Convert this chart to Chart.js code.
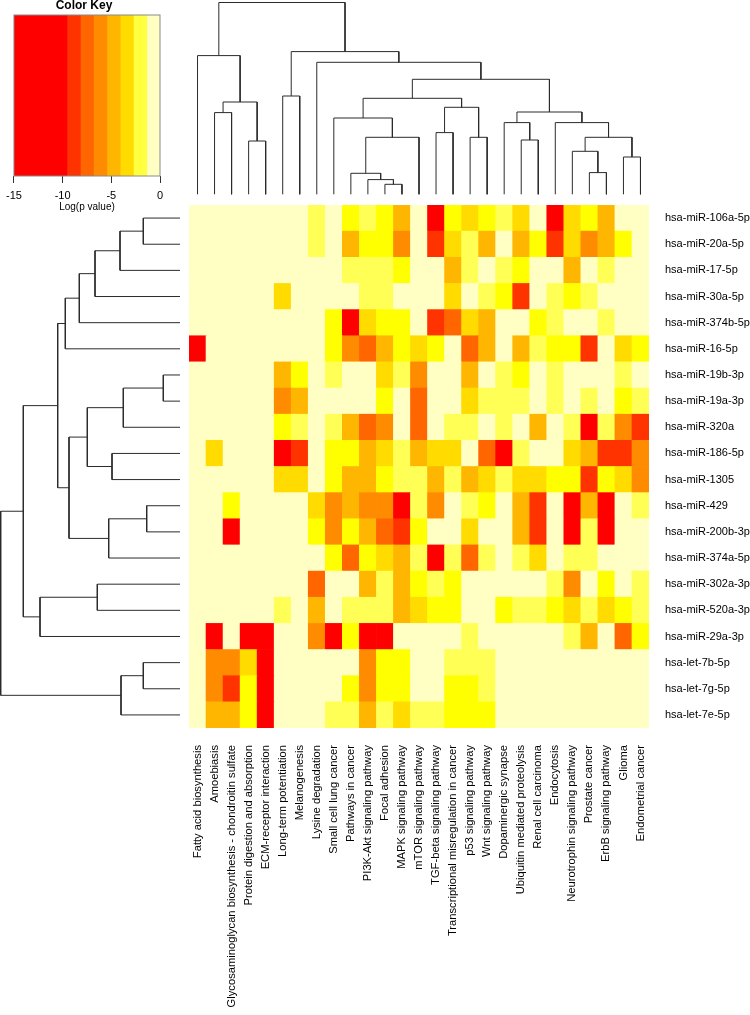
<!DOCTYPE html>
<html><head><meta charset="utf-8">
<script src="https://cdn.jsdelivr.net/npm/chart.js@4.4.1/dist/chart.umd.min.js"></script>
<style>
html,body{margin:0;padding:0;background:#fff;width:750px;height:1015px;overflow:hidden}
canvas{position:absolute;left:0;top:0}
</style></head><body>
<canvas id="heat" width="750" height="1015"></canvas>
<canvas id="topTree" width="750" height="1015"></canvas>
<canvas id="leftTree" width="750" height="1015"></canvas>
<canvas id="key" width="750" height="1015"></canvas>
<script>
// ---------- categories ----------
const mirnas = ["hsa-miR-106a-5p","hsa-miR-20a-5p","hsa-miR-17-5p","hsa-miR-30a-5p","hsa-miR-374b-5p","hsa-miR-16-5p","hsa-miR-19b-3p","hsa-miR-19a-3p","hsa-miR-320a","hsa-miR-186-5p","hsa-miR-1305","hsa-miR-429","hsa-miR-200b-3p","hsa-miR-374a-5p","hsa-miR-302a-3p","hsa-miR-520a-3p","hsa-miR-29a-3p","hsa-let-7b-5p","hsa-let-7g-5p","hsa-let-7e-5p"];
const pathways = ["Fatty acid biosynthesis","Amoebiasis","Glycosaminoglycan biosynthesis - chondroitin sulfate","Protein digestion and absorption","ECM-receptor interaction","Long-term potentiation","Melanogenesis","Lysine degradation","Small cell lung cancer","Pathways in cancer","PI3K-Akt signaling pathway","Focal adhesion","MAPK signaling pathway","mTOR signaling pathway","TGF-beta signaling pathway","Transcriptional misregulation in cancer","p53 signaling pathway","Wnt signaling pathway","Dopaminergic synapse","Ubiquitin mediated proteolysis","Renal cell carcinoma","Endocytosis","Neurotrophin signaling pathway","Prostate cancer","ErbB signaling pathway","Glioma","Endometrial cancer"];

// ---------- Log(p value) per miRNA, one value per pathway ----------
const miR106a_5p = [-0.5,-0.5,-0.5,-0.5,-0.5,-0.5,-0.5,-1.7,-0.5,-2.4,-1.7,-2.4,-4.8,-0.5,-11,-2.4,-3.4,-2.4,-1.7,-3.4,-0.5,-11,-3.4,-2.4,-4.8,-0.5,-0.5];
const miR20a_5p  = [-0.5,-0.5,-0.5,-0.5,-0.5,-0.5,-0.5,-1.7,-0.5,-4.8,-2.4,-2.4,-6.1,-0.5,-8.9,-3.4,-1.7,-4.8,-0.5,-4.8,-2.4,-8.9,-3.4,-6.1,-4.8,-2.4,-0.5];
const miR17_5p   = [-0.5,-0.5,-0.5,-0.5,-0.5,-0.5,-0.5,-0.5,-0.5,-1.7,-1.7,-1.7,-2.4,-0.5,-0.5,-4.8,-1.7,-0.5,-1.7,-2.4,-0.5,-0.5,-4.8,-0.5,-1.7,-0.5,-0.5];
const miR30a_5p  = [-0.5,-0.5,-0.5,-0.5,-0.5,-3.4,-0.5,-0.5,-0.5,-0.5,-1.7,-1.7,-0.5,-0.5,-0.5,-3.4,-0.5,-1.7,-2.4,-8.9,-0.5,-1.7,-2.4,-1.7,-0.5,-0.5,-0.5];
const miR374b_5p = [-0.5,-0.5,-0.5,-0.5,-0.5,-0.5,-0.5,-0.5,-2.4,-11,-3.4,-2.4,-2.4,-0.5,-8.9,-7.5,-3.4,-4.8,-0.5,-0.5,-2.4,-1.7,-0.5,-0.5,-1.7,-0.5,-0.5];
const miR16_5p   = [-11,-0.5,-0.5,-0.5,-0.5,-0.5,-0.5,-0.5,-2.4,-6.1,-7.5,-4.8,-2.4,-3.4,-2.4,-0.5,-7.5,-4.8,-0.5,-4.8,-1.7,-2.4,-2.4,-8.9,-0.5,-3.4,-2.4];
const miR19b_3p  = [-0.5,-0.5,-0.5,-0.5,-0.5,-4.8,-2.4,-0.5,-1.7,-0.5,-0.5,-3.4,-1.7,-6.1,-0.5,-0.5,-4.8,-0.5,-1.7,-2.4,-0.5,-1.7,-0.5,-0.5,-0.5,-1.7,-0.5];
const miR19a_3p  = [-0.5,-0.5,-0.5,-0.5,-0.5,-6.1,-4.8,-0.5,-0.5,-0.5,-0.5,-2.4,-0.5,-7.5,-0.5,-0.5,-3.4,-1.7,-1.7,-1.7,-0.5,-1.7,-0.5,-1.7,-0.5,-2.4,-1.7];
const miR320a    = [-0.5,-0.5,-0.5,-0.5,-0.5,-2.4,-1.7,-0.5,-1.7,-4.8,-7.5,-6.1,-0.5,-7.5,-0.5,-1.7,-1.7,-0.5,-1.7,-0.5,-4.8,-0.5,-1.7,-11,-1.7,-6.1,-8.9];
const miR186_5p  = [-0.5,-3.4,-0.5,-0.5,-0.5,-11,-8.9,-0.5,-2.4,-2.4,-4.8,-3.4,-1.7,-4.8,-3.4,-3.4,-0.5,-7.5,-11,-1.7,-0.5,-0.5,-3.4,-4.8,-8.9,-8.9,-6.1];
const miR1305    = [-0.5,-0.5,-0.5,-0.5,-0.5,-3.4,-3.4,-0.5,-2.4,-4.8,-4.8,-2.4,-1.7,-1.7,-4.8,-1.7,-4.8,-3.4,-1.7,-3.4,-3.4,-2.4,-2.4,-8.9,-2.4,-3.4,-6.1];
const miR429     = [-0.5,-0.5,-2.4,-0.5,-0.5,-0.5,-0.5,-3.4,-6.1,-4.8,-6.1,-6.1,-11,-1.7,-6.1,-0.5,-1.7,-2.4,-0.5,-4.8,-8.9,-0.5,-11,-4.8,-11,-0.5,-1.7];
const miR200b_3p = [-0.5,-0.5,-11,-0.5,-0.5,-0.5,-0.5,-2.4,-6.1,-2.4,-4.8,-7.5,-8.9,-2.4,-0.5,-0.5,-3.4,-0.5,-0.5,-4.8,-8.9,-0.5,-11,-1.7,-11,-0.5,-0.5];
const miR374a_5p = [-0.5,-0.5,-0.5,-0.5,-0.5,-0.5,-0.5,-0.5,-2.4,-7.5,-2.4,-3.4,-4.8,-1.7,-11,-1.7,-7.5,-1.7,-0.5,-1.7,-3.4,-0.5,-1.7,-1.7,-0.5,-0.5,-0.5];
const miR302a_3p = [-0.5,-0.5,-0.5,-0.5,-0.5,-0.5,-0.5,-7.5,-0.5,-0.5,-4.8,-1.7,-4.8,-2.4,-1.7,-2.4,-0.5,-0.5,-0.5,-0.5,-0.5,-1.7,-6.1,-0.5,-2.4,-0.5,-1.7];
const miR520a_3p = [-0.5,-0.5,-0.5,-0.5,-0.5,-1.7,-0.5,-4.8,-0.5,-1.7,-1.7,-1.7,-4.8,-3.4,-2.4,-2.4,-0.5,-0.5,-2.4,-1.7,-1.7,-2.4,-3.4,-1.7,-3.4,-2.4,-1.7];
const miR29a_3p  = [-0.5,-11,-0.5,-11,-11,-0.5,-0.5,-6.1,-11,-2.4,-11,-11,-0.5,-0.5,-0.5,-0.5,-1.7,-0.5,-0.5,-0.5,-0.5,-0.5,-1.7,-4.8,-0.5,-7.5,-2.4];
const let7b_5p   = [-0.5,-6.1,-6.1,-3.4,-11,-0.5,-0.5,-0.5,-0.5,-0.5,-6.1,-2.4,-2.4,-0.5,-0.5,-1.7,-1.7,-1.7,-0.5,-0.5,-0.5,-0.5,-0.5,-0.5,-0.5,-0.5,-0.5];
const let7g_5p   = [-0.5,-6.1,-8.9,-2.4,-11,-0.5,-0.5,-0.5,-0.5,-2.4,-6.1,-2.4,-2.4,-0.5,-0.5,-2.4,-2.4,-1.7,-0.5,-0.5,-0.5,-0.5,-0.5,-0.5,-0.5,-0.5,-0.5];
const let7e_5p   = [-0.5,-4.8,-4.8,-2.4,-11,-0.5,-0.5,-0.5,-1.7,-1.7,-4.8,-1.7,-3.4,-1.7,-1.7,-2.4,-2.4,-2.4,-0.5,-0.5,-0.5,-0.5,-0.5,-0.5,-0.5,-0.5,-0.5];
const rowValues = [miR106a_5p,miR20a_5p,miR17_5p,miR30a_5p,miR374b_5p,miR16_5p,miR19b_3p,miR19a_3p,miR320a,miR186_5p,miR1305,miR429,miR200b_3p,miR374a_5p,miR302a_3p,miR520a_3p,miR29a_3p,let7b_5p,let7g_5p,let7e_5p];

// ---------- colour key ----------
const keyBreaks = [-15,-9.55,-8.18,-6.82,-5.45,-4.09,-2.73,-1.36,0];
const keyColors = ["#FF0000","#FF3300","#FF6600","#FF8C00","#FFB600","#FFDB00","#FFFF40","#FFFFC4"];
const keyTicks = [-15,-10,-5,0];
const cellBreaks = [-15,-9.55,-8.18,-6.82,-5.45,-4.09,-2.73,-2.0,-1.36,0];
const cellColors = ["#FF0000","#FF3300","#FF6600","#FF8C00","#FFB600","#FFDB00","#FFFF00","#FFFF55","#FFFFC4"];

// ---------- dendrograms (hclust-style merges: negative = leaf, positive = earlier merge) ----------
const colMerge = [[-12,-13],[-11,1],[-10,2],[-24,-25],[-26,-27],[-23,4],[-4,-5],[-20,-21],[3,-14],[-17,-18],[6,5],[-15,-16],[-19,8],[-22,11],[-9,9],[-2,-3],[13,14],[12,10],[16,7],[15,18],[-6,-7],[20,17],[-8,22],[-1,19],[21,23],[24,25]];
const colHeight = [10,14.7,21,21.7,37.3,43,53.3,54.3,57,57,57,61.7,71.7,71.7,76.3,81.7,82.3,87,92.3,96,98.3,115,132,138.7,142.7,191.8];
const rowMerge = [[-7,-8],[-12,-13],[-1,-2],[-18,-19],[1,-9],[4,-20],[3,-3],[-10,-11],[2,-14],[-15,-16],[7,-4],[5,8],[11,-5],[12,9],[13,-6],[15,14],[10,-17],[16,17],[18,6]];
const rowHeight = [16.7,33.3,36.7,36.7,56.7,59,60,68,71.3,82.7,85,92.7,100.7,111,114.7,122.3,140,156.7,179.3];

const FONT = "'Liberation Sans', Arial, Helvetica, sans-serif";
Chart.defaults.font.family = FONT;

function cellColor(v){
  for(let i=0;i<cellColors.length;i++){ if(v < cellBreaks[i+1]) return cellColors[i]; }
  return cellColors[cellColors.length-1];
}

// ---------- heatmap ----------
const heatDatasets = rowValues.map((vals,i)=>({
  label: mirnas[i],
  data: vals.map(()=>1),
  backgroundColor: vals.map(cellColor),
  borderWidth: 0,
  barPercentage: 1,
  categoryPercentage: 1,
  xAxisID: 'x', yAxisID: 'y'
})).reverse();

new Chart(document.getElementById('heat'), {
  type: 'bar',
  data: { labels: pathways, datasets: heatDatasets },
  options: {
    responsive: false, animation: false, devicePixelRatio: 1,
    layout: { padding: { left: 189, top: 205, right: 0, bottom: 0 } },
    plugins: { legend: { display: false }, tooltip: { enabled: false } },
    scales: {
      x: { stacked: true, grid: { display: false }, border: { display: false },
           ticks: { autoSkip: false, minRotation: 90, maxRotation: 90, padding: 9, color: '#000', font: { size: 11.2 } },
           afterFit(s){ s.height = 287; } },
      y: { stacked: true, display: false, min: 0, max: 20 },
      y2: { type: 'category', labels: mirnas, position: 'right', offset: true,
            grid: { display: false }, border: { display: false },
            ticks: { padding: 8, color: '#000', font: { size: 11 } },
            afterFit(s){ s.width = 101; } }
    }
  }
});

// ---------- dendrogram helper ----------
function treeLinks(merge, height){
  const pos = [], hh = [];
  const at = k => k < 0 ? [-k-1, 0] : [pos[k-1], hh[k-1]];
  return merge.map((m,i)=>{
    const [pa,ha] = at(m[0]); const [pb,hb] = at(m[1]); const h = height[i];
    pos.push((pa+pb)/2); hh.push(h);
    return [[pa,ha],[pa,h],[pb,h],[pb,hb]];
  });
}
const lineStyle = { showLine: true, pointRadius: 0, borderColor: '#2b2b2b', borderWidth: 1, clip: false, fill: false, tension: 0 };

new Chart(document.getElementById('topTree'), {
  type: 'scatter',
  data: { datasets: treeLinks(colMerge, colHeight).map(seg => Object.assign({ data: seg.map(p=>({x:p[0], y:p[1]})) }, lineStyle)) },
  options: {
    responsive: false, animation: false, devicePixelRatio: 1,
    layout: { padding: { left: 189, right: 101, top: 0, bottom: 820.7 } },
    plugins: { legend: { display: false }, tooltip: { enabled: false } },
    scales: { x: { type: 'linear', min: -0.5, max: 26.5, display: false }, y: { type: 'linear', min: 0, max: 194.3, display: false } }
  }
});

new Chart(document.getElementById('leftTree'), {
  type: 'scatter',
  data: { datasets: treeLinks(rowMerge, rowHeight).map(seg => Object.assign({ data: seg.map(p=>({x:p[1], y:p[0]})) }, lineStyle)) },
  options: {
    responsive: false, animation: false, devicePixelRatio: 1,
    layout: { padding: { left: 0, right: 570, top: 205, bottom: 287 } },
    plugins: { legend: { display: false }, tooltip: { enabled: false } },
    scales: { x: { type: 'linear', min: 0, max: 180, reverse: true, display: false }, y: { type: 'linear', min: -0.5, max: 19.5, reverse: true, display: false } }
  }
});

// ---------- colour key ----------
const keyBox = { id: 'keyBox', afterDatasetsDraw(c){ const a = c.chartArea; const ctx = c.ctx; ctx.save(); ctx.strokeStyle = '#8a8a8a'; ctx.lineWidth = 1; ctx.strokeRect(a.left, a.top, a.right-a.left, a.bottom-a.top); ctx.restore(); } };
new Chart(document.getElementById('key'), {
  type: 'bar',
  data: { labels: [''], datasets: keyColors.map((c,i)=>({ data: [[keyBreaks[i], keyBreaks[i+1]]], backgroundColor: c, borderWidth: 0, grouped: false, barPercentage: 1, categoryPercentage: 1 })) },
  options: {
    indexAxis: 'y', responsive: false, animation: false, devicePixelRatio: 1,
    layout: { padding: { left: 8, right: 590, top: 0, bottom: 802 } },
    plugins: { legend: { display: false }, tooltip: { enabled: false },
      title: { display: true, text: 'Color Key', color: '#000', font: { size: 12, weight: 'bold', lineHeight: 1.0 }, padding: { top: 0, bottom: 3 } } },
    scales: {
      x: { type: 'linear', min: -15, max: 0,
           afterBuildTicks(s){ s.ticks = keyTicks.map(v=>({value:v})); },
           ticks: { color: '#000', font: { size: 11 }, padding: 6 },
           grid: { drawOnChartArea: false, drawTicks: true, tickLength: 7, color: '#333' },
           border: { display: false },
           title: { display: true, text: 'Log(p value)', color: '#000', font: { size: 10 }, padding: 0 },
           afterFit(s){ s.height = 37; } },
      y: { display: false }
    }
  },
  plugins: [keyBox]
});
</script>
</body></html>
